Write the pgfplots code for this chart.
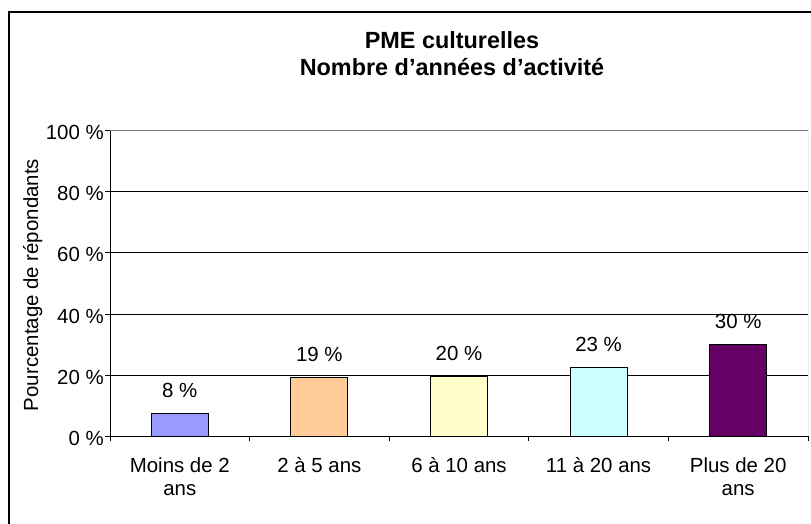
\documentclass[border=0pt]{standalone}
\usepackage{fontspec}
\setmainfont{Liberation Sans}
\usepackage{pgfplots}
\pgfplotsset{compat=1.18}
\definecolor{c1}{HTML}{9999FF}
\definecolor{c2}{HTML}{FFCC99}
\definecolor{c3}{HTML}{FFFFCC}
\definecolor{c4}{HTML}{CCFFFF}
\definecolor{c5}{HTML}{660066}
\newcommand{\lblfont}{\fontsize{20.5}{23}\selectfont}
\begin{document}
\begin{tikzpicture}[x=1bp,y=1bp]
\useasboundingbox (0,0) rectangle (811,524);
\draw[line width=1.3bp] (9,-20) -- (9,512) -- (840,512);
\begin{axis}[
  at={(110bp,87.5bp)}, anchor=south west,
  scale only axis, width=698bp, height=306bp,
  xmin=-0.5, xmax=4.5, ymin=0, ymax=100,
  axis lines*=left,
  axis line style={black, line width=0.9bp},
  /pgf/number format/assume math mode=true,
  ytick={0,20,...,100},
  yticklabel={\pgfmathprintnumber{\tick}\ \%},
  ymajorgrids, grid style={black, line width=0.9bp},
  xtick={-0.5,0.5,...,4.5}, xticklabels={,,,,,,},
  extra x ticks={0,1,2,3,4},
  extra x tick labels={{Moins de 2\\ans},{2 à 5 ans},{6 à 10 ans},{11 à 20 ans},{Plus de 20\\ans}},
  extra x tick style={major tick length=0pt, tick label style={align=center, inner sep=0pt, yshift=-21bp}},
  tick align=outside, major tick length=5bp,
  tick style={black, line width=0.9bp},
  tick label style={font=\lblfont},
  yticklabel style={inner sep=0pt, xshift=-1bp, yshift=-2bp},
  ybar, bar width=57bp,
  nodes near coords={\pgfmathprintnumber[fixed,precision=0]{\pgfplotspointmeta}\ \%},
  every node near coord/.append style={font=\lblfont, inner sep=0pt, yshift=15bp, black},
]
\addplot[bar shift=0pt, fill=c1, draw=black, line width=0.9bp] coordinates {(0,7.6)};
\addplot[bar shift=0pt, fill=c2, draw=black, line width=0.9bp] coordinates {(1,19.4)};
\addplot[bar shift=0pt, fill=c3, draw=black, line width=0.9bp] coordinates {(2,19.6)};
\addplot[bar shift=0pt, fill=c4, draw=black, line width=0.9bp] coordinates {(3,22.6)};
\addplot[bar shift=0pt, fill=c5, draw=black, line width=0.9bp] coordinates {(4,30.1)};
\draw[gray, line width=0.9bp] (rel axis cs:0,1) -- (rel axis cs:1,1) -- (rel axis cs:1,0);
\end{axis}
\node[anchor=base, font=\bfseries\fontsize{23.5}{27}\selectfont, inner sep=0pt] at (452,475) {PME culturelles};
\node[anchor=base, font=\bfseries\fontsize{23.5}{27}\selectfont, inner sep=0pt] at (452,448) {Nombre d’années d’activité};
\node[rotate=90, anchor=base, font=\lblfont, inner sep=0pt] at (38,239) {Pourcentage de répondants};
\end{tikzpicture}
\end{document}
